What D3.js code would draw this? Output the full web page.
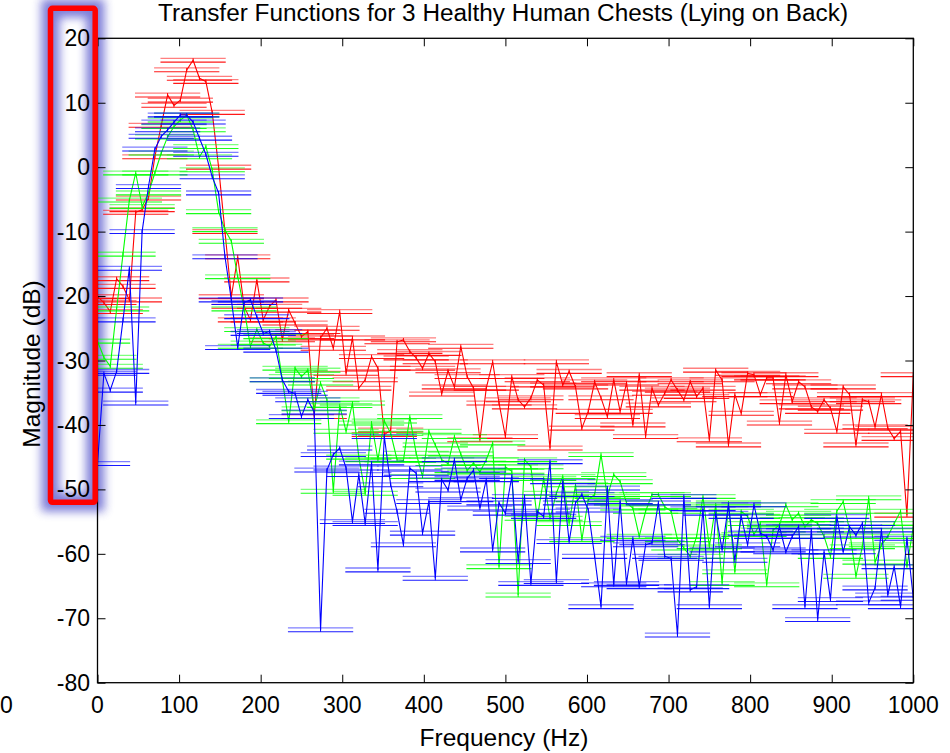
<!DOCTYPE html>
<html><head><meta charset="utf-8">
<script src="https://cdn.jsdelivr.net/npm/d3@7"></script>
<style>
body{margin:0;background:#fff}
svg{display:block}
text{font-family:"Liberation Sans",Arial,Helvetica,sans-serif;fill:#000}
</style>
</head><body>
<svg id="chart" width="950" height="753"></svg>
<script>
// ---------------- data ----------------
const titleText = "Transfer Functions for 3 Healthy Human Chests (Lying on Back)";
const xLabelText = "Frequency (Hz)";
const yLabelText = "Magnitude (dB)";
const freqStepHz = 7.8125;          // spacing of the frequency bins
const teeHalfWidthHz = 40;          // half width of error-bar tees
const errHalfDb = 0.3;              // half height of the error bars
const xTicks = [0,100,200,300,400,500,600,700,800,900,1000];
const yTicks = [20,10,0,-10,-20,-30,-40,-50,-60,-70,-80];
const seriesNames = ["Chest 1","Chest 2","Chest 3"];
const seriesColors = ["#ff0000","#00ff00","#0000ff"];

const redMag = [
-20.1,-21.0,-22.4,-17.3,-18.5,-20.6,-7.0,-6.6,-4.8,1.6,
6.5,11.2,9.6,10.4,15.1,16.6,13.8,13.3,8.5,0.0,
-10.0,-20.1,-13.9,-21.6,-23.7,-17.5,-23.7,-21.6,-20.6,-26.8,
-22.2,-24.2,-26.3,-25.5,-38.7,-26.5,-25.0,-28.1,-22.4,-32.0,
-26.5,-34.3,-33.0,-29.4,-31.2,-41.5,-40.8,-27.1,-26.8,-28.6,
-29.6,-31.2,-28.9,-30.2,-35.2,-31.6,-34.1,-27.8,-32.5,-34.3,
-42.3,-34.3,-30.2,-36.6,-41.8,-32.5,-36.1,-37.2,-35.8,-33.0,
-33.8,-43.6,-30.2,-33.8,-31.7,-34.1,-40.5,-37.9,-33.3,-35.8,
-38.7,-33.0,-37.9,-33.5,-40.0,-32.2,-41.8,-34.3,-36.9,-35.1,
-33.0,-34.6,-36.1,-33.3,-35.6,-34.3,-42.3,-31.5,-33.0,-43.1,
-35.3,-38.2,-32.0,-32.2,-35.3,-32.7,-32.7,-39.7,-32.2,-36.4,
-33.3,-34.1,-37.2,-37.9,-36.1,-37.4,-41.0,-34.1,-35.3,-43.1,
-36.1,-36.4,-40.3,-35.3,-40.5,-42.1,-41.0,-54.0,-32.2
];
const greenMag = [
-27.0,-29.5,-30.9,-22.0,-13.5,-5.1,-0.9,-6.1,-4.0,-0.9,
2.2,4.7,6.3,7.3,8.1,5.8,1.6,3.2,-0.4,-6.9,
-9.7,-11.5,-17.0,-22.0,-27.8,-25.2,-27.3,-27.8,-26.3,-33.0,
-39.5,-31.2,-32.5,-31.5,-37.5,-33.5,-36.1,-50.3,-37.0,-41.0,
-36.6,-45.0,-50.6,-39.7,-45.4,-39.4,-41.3,-45.4,-45.5,-38.7,
-44.4,-48.0,-41.0,-43.1,-45.4,-46.0,-41.8,-44.5,-47.1,-45.9,
-47.3,-45.4,-42.8,-62.0,-46.5,-47.2,-66.4,-45.4,-46.5,-54.5,
-48.3,-54.5,-50.6,-48.0,-55.3,-49.3,-57.8,-51.6,-50.8,-44.6,
-51.1,-47.7,-48.8,-52.1,-52.9,-57.3,-53.4,-50.8,-50.8,-52.7,
-53.4,-57.8,-59.1,-60.4,-57.3,-51.1,-58.9,-52.4,-64.6,-52.1,
-62.8,-53.4,-54.2,-57.0,-55.3,-64.8,-56.3,-55.5,-52.4,-54.7,
-53.7,-55.8,-54.7,-55.3,-57.3,-60.4,-53.4,-51.9,-56.3,-63.5,
-58.9,-51.3,-61.3,-58.6,-57.3,-55.3,-53.4,-62.0,-55.8
];
const blueMag = [
-46.0,-32.0,-34.6,-31.7,-23.7,-15.7,-36.6,-10.0,-3.0,2.8,
4.8,5.8,7.0,8.1,8.1,7.0,4.5,2.0,-1.5,-4.0,
-13.9,-20.6,-28.0,-21.0,-20.6,-23.2,-25.8,-25.5,-28.4,-33.0,
-34.8,-35.1,-38.7,-36.1,-38.0,-71.8,-47.0,-44.6,-43.6,-46.7,
-55.0,-47.7,-55.3,-45.9,-62.5,-41.8,-49.3,-53.4,-58.6,-46.7,
-47.5,-56.8,-51.9,-63.8,-48.5,-50.1,-45.4,-51.6,-48.3,-47.0,
-52.9,-48.5,-59.4,-52.1,-53.7,-48.0,-61.2,-51.1,-64.6,-53.4,
-54.2,-45.7,-64.3,-48.8,-58.1,-52.1,-50.8,-53.2,-60.4,-68.2,
-49.8,-64.8,-51.9,-64.6,-57.6,-65.1,-58.6,-58.3,-52.1,-60.4,
-60.7,-72.6,-51.1,-65.6,-65.1,-53.0,-68.2,-53.7,-59.4,-52.4,
-61.0,-54.2,-58.6,-52.4,-56.8,-57.3,-59.4,-55.8,-59.7,-57.3,
-55.8,-68.2,-56.3,-70.2,-59.7,-67.1,-54.2,-59.7,-55.8,-57.1,
-55.3,-67.6,-65.3,-56.3,-66.4,-62.0,-68.2,-57.6,-66.9
];

// ---------------- layout ----------------
const svg = d3.select("#chart");
const W = 950, H = 753;
const plot = {left: 97.5, right: 913.3, top: 38.3, bottom: 682.7};
const x = d3.scaleLinear().domain([0, 1000]).range([plot.left, plot.right]);
const y = d3.scaleLinear().domain([-80, 20]).range([plot.bottom, plot.top]);

svg.append("rect").attr("width", W).attr("height", H).attr("fill", "#fff");

// highlight glow (behind everything)
const defs = svg.append("defs");
const glow = defs.append("filter").attr("id", "glow")
  .attr("x", "-60%").attr("y", "-10%").attr("width", "220%").attr("height", "120%");
glow.append("feGaussianBlur").attr("stdDeviation", 5);
defs.append("clipPath").attr("id", "plotClip").append("rect")
  .attr("x", plot.left).attr("y", plot.top)
  .attr("width", plot.right - plot.left).attr("height", plot.bottom - plot.top);

const hl = {x: 50.5, y: 8.3, w: 44.7, h: 494};
svg.append("rect")
  .attr("x", hl.x).attr("y", hl.y).attr("width", hl.w).attr("height", hl.h)
  .attr("fill", "none").attr("stroke", "#7676d6").attr("stroke-width", 18)
  .attr("filter", "url(#glow)").attr("opacity", 0.95);

// ---------------- series ----------------
const series = [redMag, greenMag, blueMag].map((mags, k) => ({
  name: seriesNames[k],
  color: seriesColors[k],
  points: mags.map((m, i) => ({f: i * freqStepHz, m}))
}));

const gData = svg.append("g").attr("clip-path", "url(#plotClip)");
const line = d3.line().x(d => x(d.f)).y(d => y(d.m));

series.forEach(s => {
  const g = gData.append("g").attr("class", "series");
  // tees (top and bottom of each error bar)
  const bars = g.selectAll("g.bar").data(s.points).join("g").attr("class", "bar");
  bars.append("line")
    .attr("x1", d => x(d.f - teeHalfWidthHz)).attr("x2", d => x(d.f + teeHalfWidthHz))
    .attr("y1", d => y(d.m + errHalfDb)).attr("y2", d => y(d.m + errHalfDb))
    .attr("stroke", s.color).attr("stroke-width", 1.3).attr("stroke-opacity", 0.5);
  bars.append("line")
    .attr("x1", d => x(d.f - teeHalfWidthHz)).attr("x2", d => x(d.f + teeHalfWidthHz))
    .attr("y1", d => y(d.m - errHalfDb)).attr("y2", d => y(d.m - errHalfDb))
    .attr("stroke", s.color).attr("stroke-width", 1.1).attr("stroke-opacity", 0.9);
  bars.append("line")
    .attr("x1", d => x(d.f)).attr("x2", d => x(d.f))
    .attr("y1", d => y(d.m - errHalfDb)).attr("y2", d => y(d.m + errHalfDb))
    .attr("stroke", s.color).attr("stroke-width", 1);
  g.append("path").datum(s.points)
    .attr("d", line).attr("fill", "none")
    .attr("stroke", s.color).attr("stroke-width", 1.1);
});

// ---------------- axes (MATLAB box style, inward ticks) ----------------
const gAx = svg.append("g");
const tickLen = 8;
gAx.append("rect")
  .attr("x", plot.left).attr("y", plot.top)
  .attr("width", plot.right - plot.left).attr("height", plot.bottom - plot.top)
  .attr("fill", "none").attr("stroke", "#000").attr("stroke-width", 1.3);

const axB = d3.axisBottom(x).tickValues(xTicks).tickSize(-tickLen).tickFormat("");
const axT = d3.axisTop(x).tickValues(xTicks).tickSize(-tickLen).tickFormat("");
const axL = d3.axisLeft(y).tickValues(yTicks).tickSize(-tickLen).tickFormat("");
const axR = d3.axisRight(y).tickValues(yTicks).tickSize(-tickLen).tickFormat("");
[[axB, `translate(0,${plot.bottom})`], [axT, `translate(0,${plot.top})`],
 [axL, `translate(${plot.left},0)`], [axR, `translate(${plot.right},0)`]].forEach(([a, t]) => {
  const g = gAx.append("g").attr("transform", t).call(a);
  g.select(".domain").remove();
  g.selectAll(".tick line").attr("stroke", "#000").attr("stroke-width", 1);
});

// tick labels
gAx.selectAll("text.xt").data(xTicks).join("text").attr("class", "xt")
  .attr("x", d => x(d)).attr("y", 713)
  .attr("text-anchor", "middle").attr("font-size", 23).text(d => d);
gAx.selectAll("text.yt").data(yTicks).join("text").attr("class", "yt")
  .attr("x", 90).attr("y", d => y(d) + 8)
  .attr("text-anchor", "end").attr("font-size", 23).text(d => d);

// label fragment at the left edge of the picture
svg.append("text").attr("x", 0).attr("y", 713).attr("font-size", 23).text("0");

// titles
svg.append("text").attr("x", 503).attr("y", 21)
  .attr("text-anchor", "middle").attr("font-size", 23)
  .attr("textLength", 690).attr("lengthAdjust", "spacingAndGlyphs")
  .text(titleText);
svg.append("text").attr("x", 504).attr("y", 746)
  .attr("text-anchor", "middle").attr("font-size", 24.5).text(xLabelText);
svg.append("text").attr("transform", "translate(40,364) rotate(-90)")
  .attr("text-anchor", "middle").attr("font-size", 24.5).text(yLabelText);

// highlight frame on top
svg.append("rect")
  .attr("x", hl.x).attr("y", hl.y).attr("width", hl.w).attr("height", hl.h)
  .attr("rx", 2).attr("fill", "none").attr("stroke", "#ff0000").attr("stroke-width", 5.5);
</script>
</body></html>
